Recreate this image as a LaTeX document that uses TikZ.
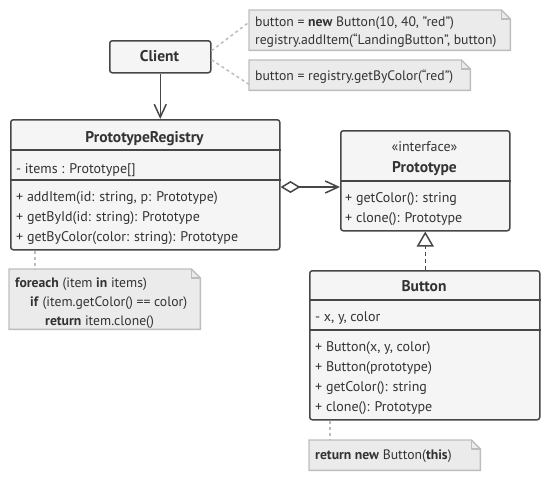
\documentclass[tikz,border=0pt]{standalone}
\usepackage{fontspec}
\setmainfont{PT Sans}
\usetikzlibrary{arrows.meta,calc}
\definecolor{linec}{HTML}{474747}
\definecolor{boxfill}{HTML}{F5F5F5}
\definecolor{notefill}{HTML}{EBEBEB}
\definecolor{notedraw}{HTML}{BDBDBD}
\definecolor{textc}{HTML}{333333}
\tikzset{
  cls/.style={draw=linec, fill=boxfill, line width=1.5pt, rounded corners=2.5pt, inner sep=0pt, anchor=north west},
  notebg/.style={fill=notefill, inner sep=0pt, anchor=north west},
  noteedge/.style={draw=notedraw, line width=1.4pt, line join=miter},
  divline/.style={draw=linec, line width=1.5pt},
  txt/.style={anchor=base west, inner sep=0pt, text=textc, font=\fontsize{14}{16}\selectfont},
  ttl/.style={anchor=base, inner sep=0pt, text=textc, font=\fontsize{15.5}{17}\selectfont\bfseries},
  ntxt/.style={anchor=base west, inner sep=0pt, text=textc, font=\fontsize{13.7}{15}\selectfont},
  assoc/.style={draw=linec, line width=1.5pt, -{Straight Barb[length=13pt,width=12pt,line width=1.5pt]}},
  aggr/.style={draw=linec, line width=1.5pt, {Diamond[open,length=20pt,width=12pt,line width=1.5pt]}-{Straight Barb[length=13pt,width=12pt,line width=1.5pt]}},
  impl/.style={draw=linec, line width=1.5pt, dash pattern=on 4pt off 3pt, -{Triangle[open,length=15pt,width=17pt,line width=1.5pt]}},
  notelink/.style={draw=notedraw, line width=1.5pt, dash pattern=on 3pt off 3pt},
}
\newcommand\foldnote[1]{%
  \fill[white] ([xshift=-9pt]#1.north east) -- (#1.north east) -- ([yshift=-9pt]#1.north east) -- cycle;
  \draw[noteedge] (#1.north west) -- ([xshift=-9pt]#1.north east) -- ([yshift=-9pt]#1.north east) -- (#1.south east) -- (#1.south west) -- cycle;
  \draw[noteedge] ([xshift=-9pt]#1.north east) -- ([xshift=-9pt,yshift=-9pt]#1.north east) -- ([yshift=-9pt]#1.north east);}
\begin{document}
\begin{tikzpicture}[x=1pt,y=-1pt]
\useasboundingbox (0,0) rectangle (550,480);
\fill[white] (0,0) rectangle (550,480);

% notes
\node[notebg, minimum width=261pt, minimum height=40pt] (n1) at (249,10) {};
\foldnote{n1}
\node[ntxt] (n1a) at (255,26.5) {button = \textbf{new} Button(10, 40, "red")};
\node[ntxt] (n1b) at (255,44.5) {registry.addItem(“LandingButton”, button)};

\node[notebg, minimum width=221pt, minimum height=30pt] (n2) at (249,60) {};
\foldnote{n2}
\node[ntxt] (n2a) at (255,80) {button = registry.getByColor(“red”)};

\node[notebg, minimum width=191pt, minimum height=60pt] (n3) at (9,269) {};
\foldnote{n3}
\node[ntxt] (n3a) at (15,287) {\textbf{foreach} (item \textbf{in} items)};
\node[ntxt] (n3b) at (30,306.5) {\textbf{if} (item.getColor() == color)};
\node[ntxt] (n3c) at (45,325.5) {\textbf{return} item.clone()};

\node[notebg, minimum width=171pt, minimum height=30pt] (n4) at (309,440) {};
\foldnote{n4}
\node[ntxt] (n4a) at (315,459.5) {\textbf{return new} Button(\textbf{this})};

% Client
\node[cls, minimum width=101pt, minimum height=32pt] (client) at (109,40) {};
\node[ttl] (clientt) at (159.5,61.5) {Client};

% PrototypeRegistry
\node[cls, minimum width=269pt, minimum height=130pt] (reg) at (10,119) {};
\draw[divline] ([yshift=-31pt]reg.north west) -- ([yshift=-31pt]reg.north east);
\draw[divline] ([yshift=-61pt]reg.north west) -- ([yshift=-61pt]reg.north east);
\node[ttl] (regt) at (144.5,142.5) {PrototypeRegistry};
\node[txt] (reg1) at (16,173) {- items : Prototype[]};
\node[txt] (reg2) at (16,201) {+ addItem(id: string, p: Prototype)};
\node[txt] (reg3) at (16,221) {+ getById(id: string): Prototype};
\node[txt] (reg4) at (16,241) {+ getByColor(color: string): Prototype};

% Prototype
\node[cls, minimum width=169pt, minimum height=100pt] (proto) at (340,130) {};
\draw[divline] ([yshift=-51pt]proto.north west) -- ([yshift=-51pt]proto.north east);
\node[anchor=base, inner sep=0pt, text=textc, font=\fontsize{14}{16}\selectfont] (protos) at (424.5,151) {«interface»};
\node[ttl] (protot) at (424.5,172.5) {Prototype};
\node[txt] (proto1) at (345,202) {+ getColor(): string};
\node[txt] (proto2) at (345,222) {+ clone(): Prototype};

% Button
\node[cls, minimum width=230pt, minimum height=149pt] (btn) at (309,270) {};
\draw[divline] ([yshift=-30pt]btn.north west) -- ([yshift=-30pt]btn.north east);
\draw[divline] ([yshift=-60pt]btn.north west) -- ([yshift=-60pt]btn.north east);
\node[ttl] (btnt) at (424,291.5) {Button};
\node[txt] (btn1) at (315,321) {- x, y, color};
\node[txt] (btn2) at (315,351) {+ Button(x, y, color)};
\node[txt] (btn3) at (315,371) {+ Button(prototype)};
\node[txt] (btn4) at (315,391) {+ getColor(): string};
\node[txt] (btn5) at (315,411) {+ clone(): Prototype};

% connectors
\draw[assoc] (client.south) -- (client.south |- reg.north);
\coordinate (ag) at ([yshift=-68pt]reg.north east);
\draw[aggr] (ag) -- (ag -| proto.west);
\draw[impl] (btn.north -| proto.south) -- (proto.south);

\coordinate (c1) at ([yshift=6pt]client.east);
\coordinate (c2) at ([yshift=-3pt]client.east);
\draw[notelink] (c1) -- ([yshift=8pt]n1.west);
\draw[notelink] (c2) -- ([yshift=6pt]n2.south west);
\coordinate (r1) at ([xshift=25pt]reg.south west);
\draw[notelink] (r1) -- (r1 |- n3.north);
\coordinate (b1) at ([xshift=21pt]btn.south west);
\draw[notelink] (b1) -- (b1 |- n4.north);
\end{tikzpicture}
\end{document}
